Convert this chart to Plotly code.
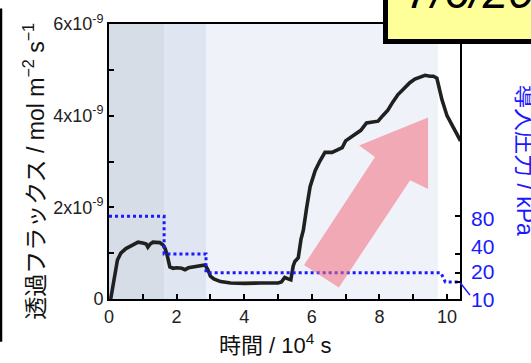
import plotly.graph_objects as go

# ---- data ----
time_1e4s = [0.05, 0.15, 0.25, 0.35, 0.5, 0.68, 0.86, 1.0, 1.1, 1.15, 1.22, 1.3, 1.5, 1.6, 1.66, 1.72,
             1.8, 1.9, 2.0, 2.15, 2.25, 2.35, 2.5, 2.7, 2.84, 2.92, 3.0, 3.1, 3.3, 3.6, 4.0, 4.5, 5.0,
             5.1, 5.2, 5.3, 5.38, 5.45, 5.5, 5.6, 5.68, 5.75, 5.8, 5.85, 5.95, 6.1, 6.24, 6.39, 6.6,
             6.75, 6.9, 7.0, 7.1, 7.28, 7.45, 7.62, 7.8, 7.96, 8.1, 8.25, 8.4, 8.55, 8.7, 8.9, 9.05,
             9.2, 9.35, 9.5, 9.6, 9.7, 9.78, 9.85, 10.0, 10.15, 10.33, 10.4]
flux_1e9 = [0.0, 0.45, 0.85, 1.0, 1.1, 1.17, 1.24, 1.22, 1.2, 1.13, 1.2, 1.24, 1.23, 1.18, 1.1, 0.96,
            0.7, 0.67, 0.68, 0.67, 0.64, 0.68, 0.7, 0.72, 0.74, 0.65, 0.5, 0.44, 0.38, 0.35, 0.34, 0.35, 0.35,
            0.37, 0.47, 0.44, 0.42, 0.72, 0.82, 0.9, 1.3, 1.5, 1.8, 2.0, 2.45, 2.8, 3.01, 3.2, 3.2,
            3.25, 3.3, 3.45, 3.5, 3.6, 3.68, 3.84, 3.86, 3.88, 4.0, 4.12, 4.3, 4.46, 4.57, 4.72, 4.8,
            4.85, 4.88, 4.86, 4.86, 4.82, 4.55, 4.35, 4.0, 3.78, 3.52, 3.45]

press_time = [0, 1.63, 1.63, 2.87, 2.87, 9.82, 9.95, 10.4]
press_kpa = [80, 80, 40, 40, 20, 20, 10, 10]

region_edges = [0, 1.63, 2.87, 9.73]
region_colors = ["#D6DDE7", "#DFE5F1", "#EFF2F8"]

y_tickvals = [0, 2, 4, 6]
y_ticktext = ["0", "2x10<sup>-9</sup>", "4x10<sup>-9</sup>", "6x10<sup>-9</sup>"]
x_tickvals = [0, 2, 4, 6, 8, 10]
p_tickvals = [10, 20, 40, 80]
p_ticktext = ["10", "20", "40", "80"]

arrow_x = [5.77, 7.87, 7.40, 9.44, 9.44, 8.91, 6.80]
arrow_y = [0.74, 3.10, 3.35, 3.96, 2.40, 2.59, 0.25]

# ---- layout geometry (pixels) ----
W, H = 531, 363
L, R, T, B = 109, 460, 16, 299
def px(x):
    return (x - L) / (R - L)
def py(y):
    return (B - y) / (B - T)

FONT = "Liberation Sans, Arial, Noto Sans CJK JP, sans-serif"
BLUE = "#1a1aff"

fig = go.Figure()
fig.add_trace(go.Scatter(x=press_time, y=press_kpa, mode="lines", yaxis="y2",
                         line=dict(color=BLUE, width=3, dash="dot"), showlegend=False))
fig.add_trace(go.Scatter(x=time_1e4s, y=flux_1e9, mode="lines",
                         line=dict(color="#202020", width=3.6), showlegend=False))

shapes = []
for i, c in enumerate(region_colors):
    shapes.append(dict(type="rect", xref="x", yref="paper", x0=region_edges[i], x1=region_edges[i + 1],
                       y0=0, y1=1, fillcolor=c, line=dict(width=0), layer="below"))
path = "M " + " L ".join(f"{a},{b}" for a, b in zip(arrow_x, arrow_y)) + " Z"
shapes.append(dict(type="path", xref="x", yref="y", path=path, fillcolor="rgba(240,110,125,0.55)",
                   line=dict(width=0), layer="above"))
# yellow date box
shapes.append(dict(type="rect", xref="paper", yref="paper", x0=px(385.5), x1=px(560), y0=py(34), y1=py(-30),
                   fillcolor="#FFFF99", line=dict(color="black", width=5), layer="above"))
# slide edge line
shapes.append(dict(type="line", xref="paper", yref="paper", x0=px(1), x1=px(1), y0=py(0), y1=py(343),
                   line=dict(color="black", width=2.5)))
# leader line to "10"
shapes.append(dict(type="line", xref="paper", yref="paper", x0=px(460), x1=px(470), y0=py(282), y1=py(295),
                   line=dict(color=BLUE, width=1.5)))

annotations = [
    dict(text="7/6/20", xref="paper", yref="paper", x=px(404), y=py(12), xanchor="left", yanchor="bottom",
         showarrow=False, font=dict(family=FONT, size=46, color="black", style="italic")),
    dict(text="透過フラックス / mol m<sup>−2</sup> s<sup>−1</sup>", xref="paper", yref="paper",
         x=px(34), y=py(168), xanchor="center", yanchor="middle", textangle=-90, showarrow=False,
         font=dict(family=FONT, size=23, color="#111")),
    dict(text="時間 / 10<sup>4</sup> s", xref="paper", yref="paper", x=px(275), y=py(345),
         xanchor="center", yanchor="middle", showarrow=False, font=dict(family=FONT, size=22, color="#111")),
    dict(text="導入圧力 / kPa", xref="paper", yref="paper", x=px(525), y=py(156), textangle=90,
         xanchor="center", yanchor="middle", showarrow=False, font=dict(family=FONT, size=23, color=BLUE)),
]
label_pos = {"80": 216, "40": 245, "20": 271, "10": 299}
for t in p_ticktext:
    annotations.append(dict(text=t, xref="paper", yref="paper", x=px(469), y=py(label_pos[t]), xanchor="left",
                            yanchor="middle", showarrow=False, font=dict(family=FONT, size=21, color=BLUE)))

fig.update_layout(
    width=W, height=H, margin=dict(l=L, r=W - R, t=T, b=H - B),
    paper_bgcolor="white", plot_bgcolor="white",
    font=dict(family=FONT, color="#222"),
    xaxis=dict(range=[0, 10.385], tickvals=x_tickvals, ticks="inside", ticklen=5, tickwidth=1.5,
               tickcolor="black", showgrid=False, zeroline=False, showline=True, linecolor="black",
               linewidth=2, mirror=True, tickfont=dict(size=18, color="#222"),
               minor=dict(ticks="inside", dtick=1, ticklen=5, tickwidth=1.5, tickcolor="black")),
    yaxis=dict(range=[0, 6], tickvals=y_tickvals, ticktext=y_ticktext, ticks="inside", ticklen=5,
               tickwidth=1.5, tickcolor="black", showgrid=False, zeroline=False, showline=True,
               linecolor="black", linewidth=2, mirror=True, tickfont=dict(size=18, color="#222"),
               minor=dict(ticks="inside", dtick=1, ticklen=5, tickwidth=1.5, tickcolor="black")),
    yaxis2=dict(range=[-8, 284.8], overlaying="y", side="right", tickvals=p_tickvals, showticklabels=False,
                ticks="inside", ticklen=5, tickwidth=1.5, tickcolor="black", showgrid=False, zeroline=False,
                showline=True, linecolor="black", linewidth=2),
    shapes=shapes, annotations=annotations,
)
fig.write_html("out.html", config={"displayModeBar": False},
               post_script="document.body.style.margin='0';document.body.style.overflow='hidden';")
